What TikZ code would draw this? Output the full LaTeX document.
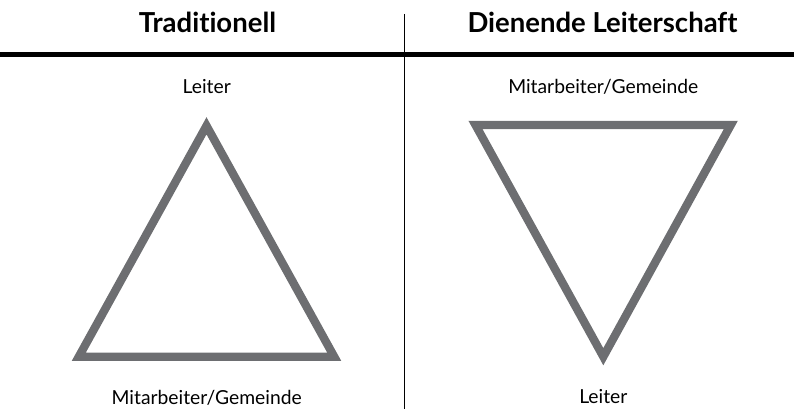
\documentclass[tikz,border=0pt]{standalone}
\usepackage{fontspec}
\setmainfont{Lato}[RawFeature={-liga;-dlig;-clig}]
\definecolor{trigray}{RGB}{109,110,113}
\begin{document}
\begin{tikzpicture}[x=1pt,y=-1pt,
  title/.style={anchor=base,inner sep=0pt,font=\fontsize{27.5}{32}\selectfont\bfseries},
  lbl/.style={anchor=base,inner sep=0pt,font=\fontsize{19.3}{23}\selectfont},
  tri/.style={draw=trigray,line width=8.3pt,line join=miter}]
\useasboundingbox (0,0) rectangle (794,411);
% rules
\coordinate (hl) at (0,54.5);
\coordinate (hr) at (794,54.5);
\coordinate (vt) at (404.3,14);
\coordinate (vb) at (404.3,409);
\draw[line width=5pt] (hl) -- (hr);
\draw[line width=1.2pt] (vt) -- (vb);
% titles
\node[title] (t1) at (207.5,33) {Traditionell};
\node[title] (t2) at (602.5,32.5) {Dienende Leiterschaft};
% left triangle
\coordinate (a1) at (206.5,125.8);
\coordinate (b1) at (78.8,356.7);
\coordinate (c1) at (334.2,356.7);
\draw[tri] (a1) -- (b1) -- (c1) -- cycle;
\node[lbl] (l1) at (206.7,94) {Leiter};
\node[lbl] (m1) at (206.7,404) {Mitarbeiter/Gemeinde};
% right triangle
\coordinate (a2) at (475.5,125);
\coordinate (b2) at (730.8,125);
\coordinate (c2) at (603.3,356.7);
\draw[tri] (a2) -- (b2) -- (c2) -- cycle;
\node[lbl] (m2) at (603.3,94) {Mitarbeiter/Gemeinde};
\node[lbl] (l2) at (603.3,403.5) {Leiter};
\end{tikzpicture}
\end{document}
